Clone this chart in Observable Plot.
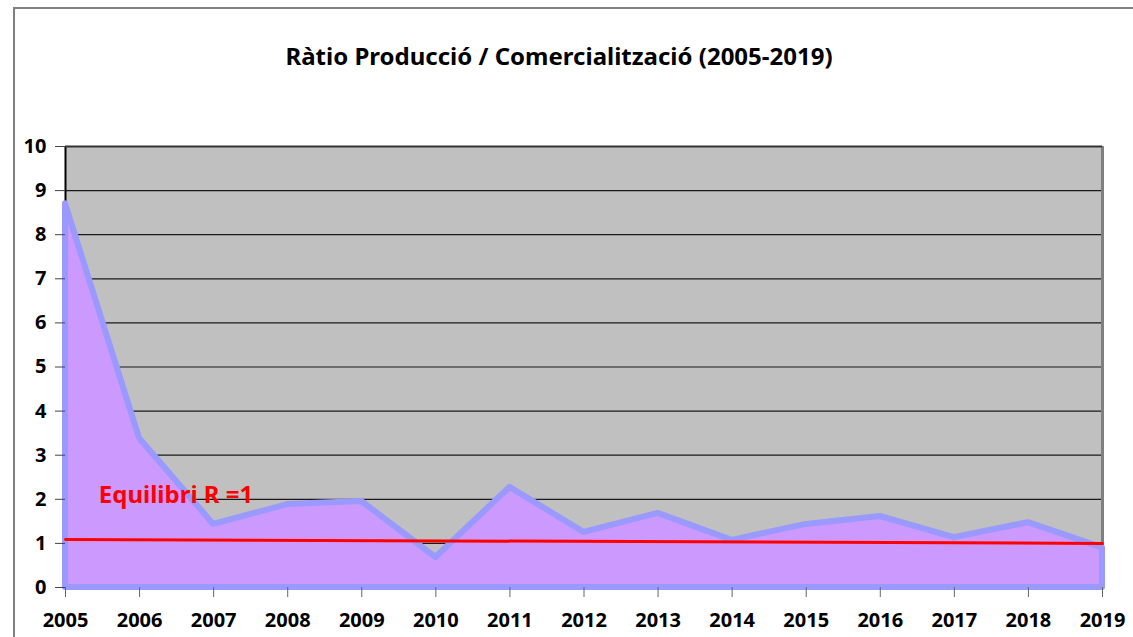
<!DOCTYPE html>
<html>
<head>
<meta charset="utf-8">
<script src="https://cdn.jsdelivr.net/npm/d3@7"></script>
<script src="https://cdn.jsdelivr.net/npm/@observablehq/plot@0.6"></script>
<style>
  html, body { margin: 0; padding: 0; background: #fff; }
  #wrap { position: relative; width: 1133px; height: 637px; overflow: hidden; font-family: "Noto Sans", "Open Sans", sans-serif; }
  #frame { position: absolute; left: 13px; top: 7px; width: 1200px; height: 700px; border-left: 2px solid #808080; border-top: 2px solid #808080; box-sizing: border-box; }
  #title { position: absolute; left: 14px; width: 1090px; top: 39px; text-align: center; font-weight: bold; font-size: 24px; color: #000; }
  #chart { position: absolute; left: 0; top: 0; }
</style>
</head>
<body>
<div id="wrap">
  <div id="frame"></div>
  <div id="title">Ràtio Producció / Comercialització (2005-2019)</div>
  <div id="chart"></div>
</div>
<script>
const years = [2005, 2006, 2007, 2008, 2009, 2010, 2011, 2012, 2013, 2014, 2015, 2016, 2017, 2018, 2019];
const ratios = [8.7, 3.38, 1.43, 1.88, 1.95, 0.68, 2.27, 1.25, 1.68, 1.07, 1.43, 1.61, 1.13, 1.47, 0.9];
const equilibriumYears = [2005, 2019];
const equilibriumValues = [1.09, 1.0];
const yTicks = [0, 1, 2, 3, 4, 5, 6, 7, 8, 9, 10];
const annotationText = ["Equilibri R =1"];
const annotationYear = [2005.45];
const annotationValue = [2.1];

const data = years.map((y, i) => ({year: y, ratio: ratios[i]}));
const eq = equilibriumYears.map((y, i) => ({year: y, value: equilibriumValues[i]}));
const ann = annotationText.map((t, i) => ({text: t, year: annotationYear[i], value: annotationValue[i]}));

const plot = Plot.plot({
  width: 1133,
  height: 637,
  marginLeft: 65,
  marginRight: 31,
  marginTop: 146,
  marginBottom: 50,
  style: {fontFamily: "'Noto Sans', 'Open Sans', sans-serif", fontSize: "20px", fontWeight: "bold", color: "#000", background: "transparent", overflow: "visible"},
  x: {domain: [2005, 2019], ticks: years, tickFormat: d => String(d), tickSize: 10, tickPadding: 15, label: null},
  y: {domain: [0, 10], ticks: yTicks, tickSize: 10, tickPadding: 9, label: null},
  marks: [
    Plot.frame({fill: "#c0c0c0", stroke: null}),
    Plot.ruleY(yTicks.filter(d => d > 0), {stroke: "#1a1a1a", strokeWidth: 1.2}),
    Plot.ruleX([2005], {stroke: "#000", strokeWidth: 2}),
    Plot.ruleX([2019], {stroke: "#808080", strokeWidth: 3}),
    Plot.ruleY([10], {stroke: "#333", strokeWidth: 2}),
    Plot.areaY(data, {x: "year", y: "ratio", fill: "#cc99ff", stroke: "#9999ff", strokeWidth: 6, strokeLinejoin: "round"}),
    Plot.line(eq, {x: "year", y: "value", stroke: "#ff0000", strokeWidth: 3}),
    Plot.text(ann, {x: "year", y: "value", text: "text", fill: "#ff0000", fontSize: 24, fontWeight: "bold", textAnchor: "start"}),
    Plot.axisX({ticks: years, tickFormat: d => String(d), tickSize: 10, tickPadding: 15, stroke: "#666", fill: "#000", fontSize: 20, fontWeight: "bold"}),
    Plot.axisY({ticks: yTicks, tickSize: 10, tickPadding: 9, stroke: "#444", fill: "#000", fontSize: 20, fontWeight: "bold"})
  ]
});
document.getElementById("chart").appendChild(plot);
</script>
</body>
</html>
